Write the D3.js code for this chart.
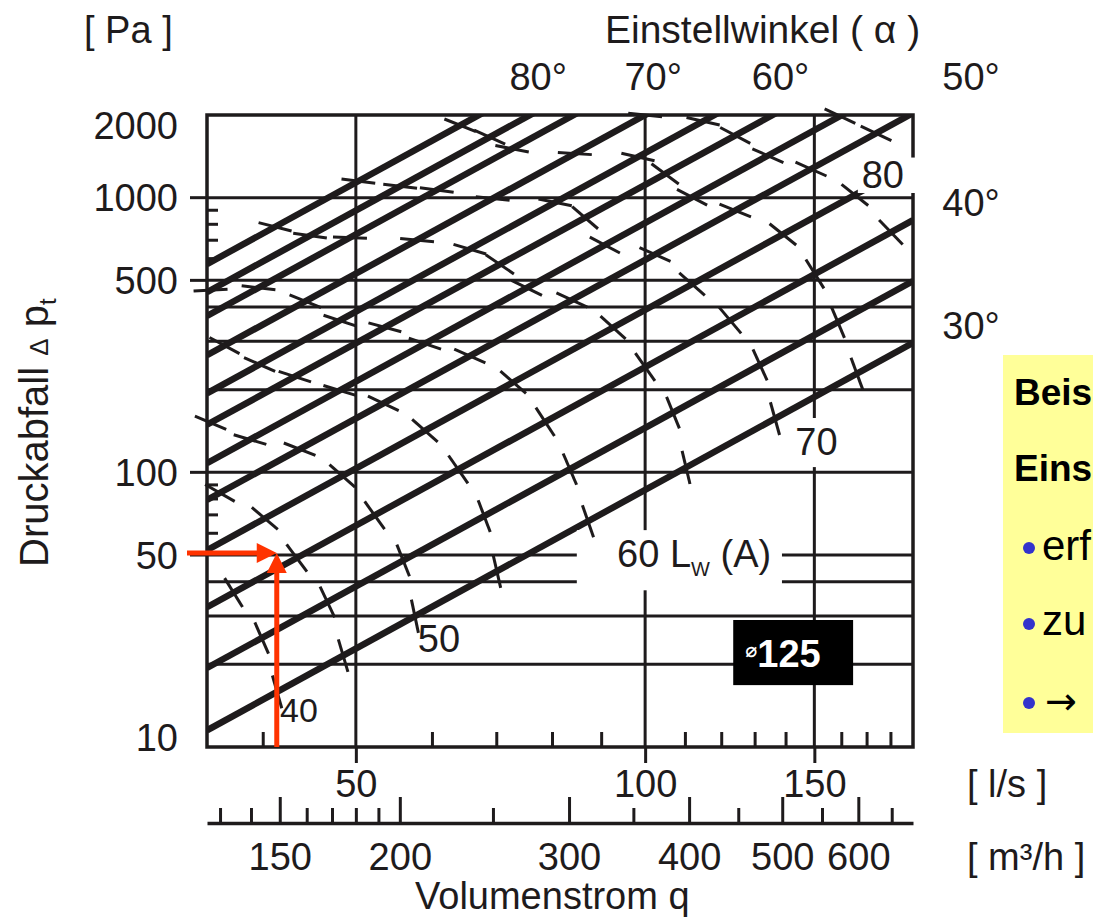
<!DOCTYPE html>
<html lang="de">
<head>
<meta charset="UTF-8">
<title>Drosselklappe 125 - Druckabfall</title>
<script src="https://cdn.jsdelivr.net/npm/d3@7/dist/d3.min.js"></script>
<style>
  body { margin: 0; background: #ffffff; }
  text { font-family: "Liberation Sans", Arial, Helvetica, sans-serif; }
</style>
</head>
<body>
<div id="chart"></div>
<script>
// Kennlinien je Einstellwinkel (Grad)
const angles  = [30, 35, 40, 45, 50, 55, 60, 65, 70, 75, 80, 85];
// Druckabfall (Pa) jeder Kennlinie am linken (35 l/s) und rechten Rand (190 l/s)
const qEnds   = [35, 190];
const dpLeft  = [11.5, 19.4, 32.3, 52.1, 79.3, 108, 149, 194, 267, 371, 453, 573];
const dpRight = [296, 497, 828, 1337, 2032, 2771, 3811, 4983, 6851, 9506, 11620, 14690];

// Lw(A)-Kurven: Volumenstrom (l/s) am Schnitt mit Kennlinie 0..11 (null = kein Schnitt)
const lwLevels = [40, 45, 50, 55, 60, 65, 70, 75, 80, 85];
const lwQ = [
  [41.4, 39.9, 37.3],
  [48.5, 46.7, 43.4, 40.2, 36.1],
  [57.6, 56.0, 52.3, 48.4, 43.7, 38.8, 35.3],
  [70.1, 68.0, 63.9, 59.0, 53.4, 48.1, 43.2, 39.7, 36.5],
  [87.2, 83.5, 78.7, 72.9, 65.7, 59.0, 53.6, 48.1, 44.3, 39.6, 35.3],
  [110.3, 106.9, 100.0, 92.6, 83.9, 75.3, 70.6, 65.7, 57.9, 49.3, 44.8, 41.2],
  [136.5, 131.7, 122.6, 111.9, 102.4, 90.8, 86.6, 80.6, 69.4, 60.7, 55.6, 50.3],
  [166.1, 158.7, 150.2, 139.1, 124.1, 111.9, 104.9, 98.3, 84.5, 72.7, 68.9, 64.2],
  [null, null, 180.2, 165.3, 148.8, 134.2, 124.1, 114.9, 100.0],
  [null, null, null, null, 173.9, 159.5]
];

// Achsen
const dpGrid   = [20, 30, 40, 50, 100, 200, 300, 400, 500, 1000];
const dpLabels = [10, 50, 100, 500, 1000, 2000];
const dpOuter  = [50, 100, 500, 1000];
const dpMinor  = [60, 70, 80, 90, 600, 700, 800, 900];
const qMajor   = [50, 100, 150];
const qMinor   = [40, 60, 70, 80, 90, 110, 120, 130, 140, 160, 170, 180];
const m3hMajor = [150, 200, 300, 400, 500, 600];
const m3hMinor = [130, 140, 160, 170, 180, 190, 250, 350, 450, 550, 650];
const angleLabels = [80, 70, 60, 50, 40, 30];

// Beispiel: 150 m3/h bei 50 Pa
const exampleM3h = 150;
const exampleDp = 50;

const ink = "#1e1b1c";
const width = 1093, height = 923;

let svg = d3.select("#chart")
    .append("svg")
    .attr("width", width)
    .attr("height", height)
    .style("background-color", "#ffffff");

let x = d3.scaleLog().domain(qEnds).range([207, 913]);
let y = d3.scaleLog().domain([10, 2000]).range([747, 115]);
let xm = d3.scaleLog().domain([qEnds[0] * 3.6, qEnds[1] * 3.6]).range([207, 913]);
const [X0, X1] = x.range();
const [Y0, Y1] = y.range();

function lineAt(i, q) {
    let x0 = x(qEnds[0]), x1 = x(qEnds[1]);
    let y0 = y(dpLeft[i]), y1 = y(dpRight[i]);
    let t = (x(q) - x0) / (x1 - x0);
    return [x(q), y0 + t * (y1 - y0)];
}
function exitPoint(i) {
    let y0 = y(dpLeft[i]), y1 = y(dpRight[i]);
    if (y1 >= Y1) return [X1, y1];
    let t = (y0 - Y1) / (y0 - y1);
    return [X0 + t * (X1 - X0), Y1];
}

svg.append("clipPath").attr("id", "plot")
    .append("rect").attr("x", X0).attr("y", Y1).attr("width", X1 - X0).attr("height", Y0 - Y1);

/* ---------- gitter ---------- */
let grid = svg.append("g").attr("stroke", ink).attr("stroke-width", 3);
grid.selectAll(".h").data(dpGrid).join("line")
    .attr("x1", X0).attr("x2", X1)
    .attr("y1", d => y(d)).attr("y2", d => y(d));
grid.selectAll(".o").data(dpOuter).join("line")
    .attr("x1", X0 - 17).attr("x2", X0)
    .attr("y1", d => y(d)).attr("y2", d => y(d));
grid.selectAll(".m").data(dpMinor).join("line")
    .attr("x1", X0).attr("x2", X0 + 11)
    .attr("y1", d => y(d)).attr("y2", d => y(d));
grid.selectAll(".v").data(qMajor).join("line")
    .attr("x1", d => x(d)).attr("x2", d => x(d))
    .attr("y1", Y1).attr("y2", Y0);

/* ---------- kennlinien ---------- */
svg.append("g").attr("clip-path", "url(#plot)")
    .selectAll("line").data(angles).join("line")
    .attr("x1", x(qEnds[0])).attr("x2", x(qEnds[1]))
    .attr("y1", (d, i) => y(dpLeft[i])).attr("y2", (d, i) => y(dpRight[i]))
    .attr("stroke", ink).attr("stroke-width", 6.5);

/* ---------- weisse label-felder ---------- */
let boxes = [
    {q0: 84.9, q1: 138.8, p0: 61.6, p1: 37.2},
    {q0: 141.6, q1: 159.5, p0: 157.7, p1: 104.5},
    {q0: 166.5, q1: 192, p0: 1400, p1: 1040}
];
svg.append("g").selectAll("rect").data(boxes).join("rect")
    .attr("x", d => x(d.q0)).attr("width", d => x(d.q1) - x(d.q0))
    .attr("y", d => y(d.p0)).attr("height", d => y(d.p1) - y(d.p0))
    .attr("fill", "#ffffff");

/* ---------- Lw(A) striche ---------- */
let tickG = svg.append("g").attr("stroke", ink).attr("stroke-width", 3);
lwQ.forEach((chain, c) => {
    let pts = chain.map((q, i) => q == null ? null : lineAt(i, q));
    pts.forEach((p, k) => {
        if (!p) return;
        let prev = pts[k - 1] || p, next = pts[k + 1] || p;
        let dx = next[0] - prev[0], dy = next[1] - prev[1];
        let len = Math.hypot(dx, dy) || 1;
        dx /= len; dy /= len;
        tickG.append("line")
            .attr("x1", p[0] - dx * 17).attr("y1", p[1] - dy * 17)
            .attr("x2", p[0] + dx * 17).attr("y2", p[1] + dy * 17);
    });
});

/* ---------- rahmen ---------- */
svg.append("rect")
    .attr("x", X0).attr("y", Y1).attr("width", X1 - X0).attr("height", Y0 - Y1)
    .attr("fill", "none").attr("stroke", ink).attr("stroke-width", 3.5);
// Lücke im rechten Rand für "80"
svg.append("rect")
    .attr("x", x(166.5)).attr("width", x(192) - x(166.5))
    .attr("y", y(1400)).attr("height", y(1040) - y(1400))
    .attr("fill", "#ffffff");

/* ---------- achsen ---------- */
function styleAxis(g, fs) {
    g.attr("color", ink).attr("font-size", fs);
    g.selectAll("line").attr("stroke-width", 3);
    g.selectAll("text").attr("fill", ink);
}
svg.append("g").attr("transform", "translate(0," + Y0 + ")")
    .call(d3.axisBottom(x).tickValues(qMinor).tickSize(-15).tickFormat(""))
    .call(g => g.select(".domain").remove())
    .call(g => styleAxis(g, 38));
svg.append("g").attr("transform", "translate(0," + Y0 + ")")
    .call(d3.axisBottom(x).tickValues(qMajor).tickSize(16).tickPadding(7).tickFormat(d3.format("d")))
    .call(g => g.select(".domain").remove())
    .call(g => styleAxis(g, 38));

svg.append("g").attr("transform", "translate(0,823)")
    .call(d3.axisBottom(xm).tickValues(m3hMinor).tickSize(-15).tickFormat(""))
    .call(g => g.select(".domain").remove())
    .call(g => styleAxis(g, 38));
svg.append("g").attr("transform", "translate(0,823)")
    .call(d3.axisBottom(xm).tickValues(m3hMajor).tickSize(-26).tickSizeOuter(0).tickPadding(20).tickFormat(d3.format("d")))
    .call(g => styleAxis(g, 38))
    .call(g => g.select(".domain").attr("stroke-width", 3.5));

svg.append("g").selectAll("text").data(dpLabels).join("text")
    .attr("x", X0 - 29)
    .attr("y", d => Math.min(Math.max(y(d), 125), 737))
    .attr("dy", "0.36em")
    .attr("text-anchor", "end")
    .attr("font-size", 38)
    .attr("fill", ink)
    .text(d => d);

/* ---------- winkel-beschriftung ---------- */
svg.append("g").selectAll("text").data(angleLabels).join("text")
    .each(function (a) {
        let i = angles.indexOf(a);
        let [ex, ey] = exitPoint(i);
        let t = d3.select(this);
        if (ex > X1 - 20 && ey <= Y1 + 5) {
            t.attr("x", 971).attr("y", 90).attr("text-anchor", "middle");
        } else if (ey <= Y1 + 1) {
            t.attr("x", ex + 8).attr("y", 90).attr("text-anchor", "middle");
        } else {
            t.attr("x", 971).attr("y", ey - 4).attr("text-anchor", "middle");
        }
    })
    .attr("font-size", 38)
    .attr("fill", ink)
    .text(d => d + "°");

/* ---------- Lw(A) beschriftung ---------- */
let lab = svg.append("g").attr("fill", ink);
lab.append("text").attr("x", x(41.7)).attr("y", y(12.3)).attr("font-size", 34).text("40");
lab.append("text").attr("x", x(58.0)).attr("y", y(22.2)).attr("font-size", 38).text("50");
let t60 = lab.append("text").attr("x", x(93.5)).attr("y", y(45.2)).attr("font-size", 38);
t60.append("tspan").text("60 L");
t60.append("tspan").attr("font-size", 20).attr("dy", 9).text("W");
t60.append("tspan").attr("dy", -9).text(" (A)");
lab.append("text").attr("x", x(143.3)).attr("y", y(115.8)).attr("font-size", 38).text("70");
lab.append("text").attr("x", x(168)).attr("y", y(1084)).attr("font-size", 38).text("80");

// Nennweite
svg.append("rect")
    .attr("x", x(123.5)).attr("width", x(164.6) - x(123.5))
    .attr("y", y(29.0)).attr("height", y(16.8) - y(29.0))
    .attr("fill", "#000000");
let dn = svg.append("text")
    .attr("x", x(123.5) + 12).attr("y", y(16.8) - 18)
    .attr("fill", "#ffffff").attr("font-weight", "bold").attr("font-size", 38);
dn.append("tspan").attr("font-size", 20).style("font-family", "'DejaVu Sans'").attr("dy", -10).text("⌀");
dn.append("tspan").attr("dy", 10).text("125");

/* ---------- titel ---------- */
let titles = svg.append("g").attr("fill", ink);
titles.append("text").attr("x", 84).attr("y", 43).attr("font-size", 38).text("[ Pa ]");
titles.append("text").attr("x", 605).attr("y", 43).attr("font-size", 39).text("Einstellwinkel ( α )");
titles.append("text").attr("x", 967).attr("y", 797).attr("font-size", 38).text("[ l/s ]");
titles.append("text").attr("x", 967).attr("y", 870).attr("font-size", 38).text("[ m³/h ]");
titles.append("text").attr("x", 415).attr("y", 909).attr("font-size", 38).text("Volumenstrom q");
let yt = titles.append("text").attr("transform", "translate(48,567) rotate(-90)").attr("font-size", 40);
yt.append("tspan").text("Druckabfall ");
yt.append("tspan").attr("font-size", 26).text("Δ");
yt.append("tspan").text(" p");
yt.append("tspan").attr("font-size", 24).attr("dy", 8).text("t");

/* ---------- beispiel-pfeile ---------- */
const red = "#ff3300";
let ax = xm(exampleM3h) - 3, ay = y(exampleDp) - 2;
let arrows = svg.append("g");
arrows.append("line").attr("x1", X0 - 20).attr("x2", ax - 16).attr("y1", ay).attr("y2", ay)
    .attr("stroke", red).attr("stroke-width", 5);
arrows.append("path")
    .attr("d", `M${ax},${ay} L${ax - 20},${ay - 10} L${ax - 20},${ay + 10} Z`)
    .attr("fill", red);
arrows.append("line").attr("x1", ax).attr("x2", ax).attr("y1", Y0).attr("y2", ay + 16)
    .attr("stroke", red).attr("stroke-width", 5);
arrows.append("path")
    .attr("d", `M${ax},${ay} L${ax - 10},${ay + 20} L${ax + 10},${ay + 20} Z`)
    .attr("fill", red);

/* ---------- beispiel-kasten ---------- */
svg.append("rect").attr("x", 1003).attr("y", 355).attr("width", 95).attr("height", 378)
    .attr("fill", "#ffff99");
let note = svg.append("g").attr("fill", "#000000");
note.append("text").attr("x", 1014).attr("y", 405).attr("font-size", 37).attr("font-weight", "bold").text("Beis");
note.append("text").attr("x", 1014).attr("y", 481).attr("font-size", 37).attr("font-weight", "bold").text("Eins");
note.append("text").attr("x", 1042).attr("y", 560).attr("font-size", 42).text("erf");
note.append("text").attr("x", 1042).attr("y", 635).attr("font-size", 42).text("zu");
note.append("text").attr("x", 1045).attr("y", 714).attr("font-size", 38).style("font-family", "'DejaVu Sans'").text("→");
svg.append("g").selectAll("circle").data([548, 624, 703]).join("circle")
    .attr("cx", 1029).attr("cy", d => d).attr("r", 6).attr("fill", "#3333cc");
</script>
</body>
</html>
